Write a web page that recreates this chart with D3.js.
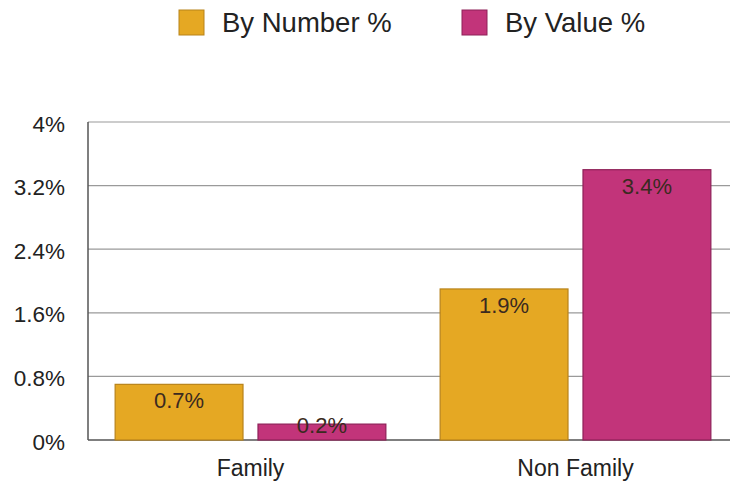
<!DOCTYPE html>
<html><head><meta charset="utf-8">
<script src="https://cdn.jsdelivr.net/npm/d3@7"></script>
<style>body{margin:0;background:#fff}svg{display:block;font-family:"Liberation Sans",Arial,Helvetica,sans-serif}</style>
</head><body><svg id="c" width="730" height="487"></svg>
<script>
const categories = ["Family", "Non Family"];
const seriesNames = ["By Number %", "By Value %"];
const byNumber = [0.7, 1.9];
const byValue = [0.2, 3.4];
const tickValues = [0, 0.8, 1.6, 2.4, 3.2, 4];
const tickLabels = ["0%", "0.8%", "1.6%", "2.4%", "3.2%", "4%"];
const colors = ["#E5A823", "#C2347A"];
const borders = ["#B8831A", "#8E2058"];

(function () {
const svg = d3.select("#c");
const pLeft = 88, pRight = 738, pTop = 122, pBottom = 440;
const x0 = d3.scaleBand().domain(categories).range([pLeft, pRight]).padding(0);
const x1 = d3.scaleBand().domain(seriesNames).range([0, x0.bandwidth()]).paddingInner(0.105).paddingOuter(0.19);
const y = d3.scaleLinear().domain([0, 4]).range([pBottom, pTop]);

// grid
svg.append("g").selectAll("line").data(tickValues).join("line")
  .attr("x1", pLeft).attr("x2", 730).attr("y1", d => y(d)).attr("y2", d => y(d))
  .attr("stroke", d => d === 0 ? "#555" : "#9a9a9a").attr("stroke-width", d => d === 0 ? 1.5 : 1.2);
svg.append("line").attr("x1", pLeft).attr("x2", pLeft).attr("y1", pTop).attr("y2", pBottom)
  .attr("stroke", "#555").attr("stroke-width", 1.5);

// y labels
const yAxis = d3.axisLeft(y).tickValues(tickValues).tickFormat((d, i) => tickLabels[i]).tickSize(0).tickPadding(23);
const ga = svg.append("g").attr("transform", `translate(${pLeft},0)`).call(yAxis);
ga.select(".domain").remove();
ga.selectAll("text").attr("font-size", 22.5).attr("fill", "#222").attr("font-family", "inherit").attr("dy", "0.4em");

// x labels
const xAxis = d3.axisBottom(x0).tickSize(0).tickPadding(20);
const gx = svg.append("g").attr("transform", `translate(0,${pBottom})`).call(xAxis);
gx.select(".domain").remove();
gx.selectAll("text").attr("font-size", 23).attr("fill", "#222").attr("font-family", "inherit");

const series = [byNumber, byValue];
const data = [];
categories.forEach((c, i) => seriesNames.forEach((s, j) => data.push({c, s, j, v: series[j][i]})));

const bars = svg.append("g").selectAll("g").data(data).join("g");
bars.append("rect")
  .attr("x", d => x0(d.c) + x1(d.s)).attr("width", x1.bandwidth())
  .attr("y", d => y(d.v)).attr("height", d => y(0) - y(d.v))
  .attr("fill", d => colors[d.j]).attr("stroke", d => borders[d.j]).attr("stroke-width", 1.2);
bars.append("text")
  .attr("x", d => x0(d.c) + x1(d.s) + x1.bandwidth() / 2)
  .attr("y", d => Math.min(y(d.v) + 24, y(0) - 7))
  .attr("text-anchor", "middle").attr("font-size", 22).attr("fill", "#3a2a20")
  .text(d => d.v + "%");

// legend
const lg = svg.append("g");
const lx = [179, 462];
seriesNames.forEach((s, j) => {
  lg.append("rect").attr("x", lx[j]).attr("y", 10).attr("width", 25).attr("height", 25)
    .attr("fill", colors[j]).attr("stroke", borders[j]).attr("stroke-width", 1);
  lg.append("text").attr("x", lx[j] + 43).attr("y", 32).attr("font-size", 27.5).attr("fill", "#222").text(s);
});
})();
</script></body></html>
